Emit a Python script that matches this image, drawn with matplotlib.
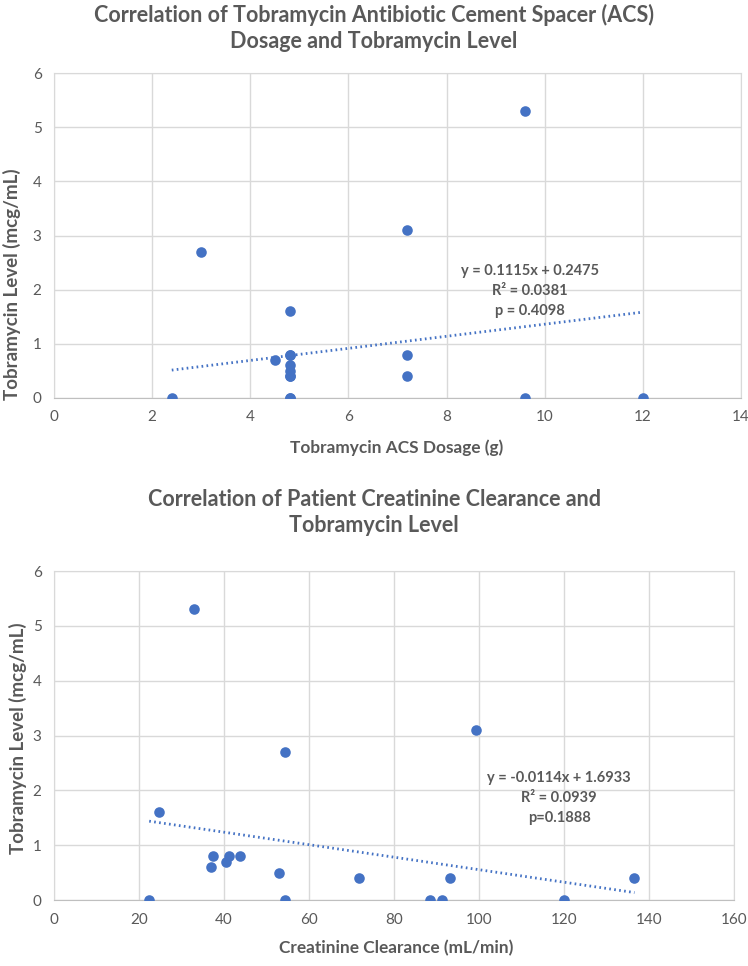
import matplotlib
matplotlib.use("Agg")
import matplotlib.pyplot as plt

# top chart: ACS dosage vs level
dosage = [2.4, 3.0, 4.5, 4.8, 4.8, 4.8, 4.8, 4.8, 4.8, 4.8, 4.8, 7.2, 7.2, 7.2, 9.6, 9.6, 12.0, 4.8]
dose_level = [0, 2.7, 0.7, 1.6, 0.8, 0.6, 0.5, 0.4, 0, 0.8, 0.4, 3.1, 0.8, 0.4, 5.3, 0, 0, 0]
dose_fit = (0.1115, 0.2475)
dose_text = "y = 0.1115x + 0.2475\nR² = 0.0381\np = 0.4098"

# bottom chart: creatinine clearance vs level
crcl = [22.4, 24.6, 32.9, 36.9, 37.5, 40.4, 41.1, 43.7, 52.9, 54.3, 54.4, 71.7, 88.5, 91.2, 93.1, 99.4, 120.0, 136.6]
crcl_level = [0, 1.6, 5.3, 0.6, 0.8, 0.7, 0.8, 0.8, 0.5, 2.7, 0, 0.4, 0, 0, 0.4, 3.1, 0, 0.4]
crcl_fit = (-0.0114, 1.6933)
crcl_text = "y = -0.0114x + 1.6933\nR² = 0.0939\np=0.1888"

blue = "#4472C4"
gray = "#595959"
grid = "#D9D9D9"
plt.rcParams["font.family"] = ["Lato", "DejaVu Sans"]

fig = plt.figure(figsize=(7.48, 9.66), dpi=100)


def panel(rect, x, y, fit, txt, txt_xy, xmax, xstep, title, title_y, xlabel, xlabel_y, ylabel_xy):
    ax = fig.add_axes(rect)
    ax.scatter(x, y, s=58, color=blue, zorder=3, linewidths=0)
    x0, x1 = min(x), max(x)
    ax.plot([x0, x1], [fit[0] * x0 + fit[1], fit[0] * x1 + fit[1]],
            color=blue, lw=2, linestyle=(0, (0.6, 1.2)), zorder=2)
    ax.set_xlim(0, xmax)
    ax.set_ylim(0, 6)
    ax.set_xticks(range(0, xmax + 1, xstep))
    ax.set_yticks(range(0, 7))
    ax.grid(True, color=grid, lw=1)
    ax.set_axisbelow(True)
    for s in ax.spines.values():
        s.set_color(grid)
    ax.spines["bottom"].set_color("#BFBFBF")
    ax.tick_params(length=0, colors=gray, labelsize=11, pad=9)
    fig.text(ylabel_xy[0], ylabel_xy[1], "Tobramycin Level (mcg/mL)", rotation=90, ha="center", va="center",
             fontsize=13.5, fontweight="bold", color=gray)
    fig.text(0.53, xlabel_y, xlabel, ha="center", va="center", fontsize=12.4, fontweight="bold", color=gray)
    fig.text(0.5, title_y, title, ha="center", va="center", fontsize=15.5, fontweight="bold",
             color=gray, linespacing=1.3)
    ax.text(txt_xy[0], txt_xy[1], txt, transform=ax.transAxes, ha="center", va="center",
            fontsize=10.5, fontweight="bold", color=gray, linespacing=1.55)
    return ax


panel([0.0722, 0.588, 0.9184, 0.3364], dosage, dose_level, dose_fit, dose_text, (0.693, 0.329), 14, 2,
      "Correlation of Tobramycin Antibiotic Cement Spacer (ACS)\nDosage and Tobramycin Level", 0.9715,
      "Tobramycin ACS Dosage (g)", 0.537, (0.016, 1 - 284 / 966))

panel([0.0722, 0.0683, 0.909, 0.3406], crcl, crcl_level, crcl_fit, crcl_text, (0.743, 0.31), 160, 20,
      "Correlation of Patient Creatinine Clearance and\nTobramycin Level", 0.469,
      "Creatinine Clearance (mL/min)", 0.0186, (0.024, 1 - 738 / 966))

fig.savefig("out.png", dpi=100)
